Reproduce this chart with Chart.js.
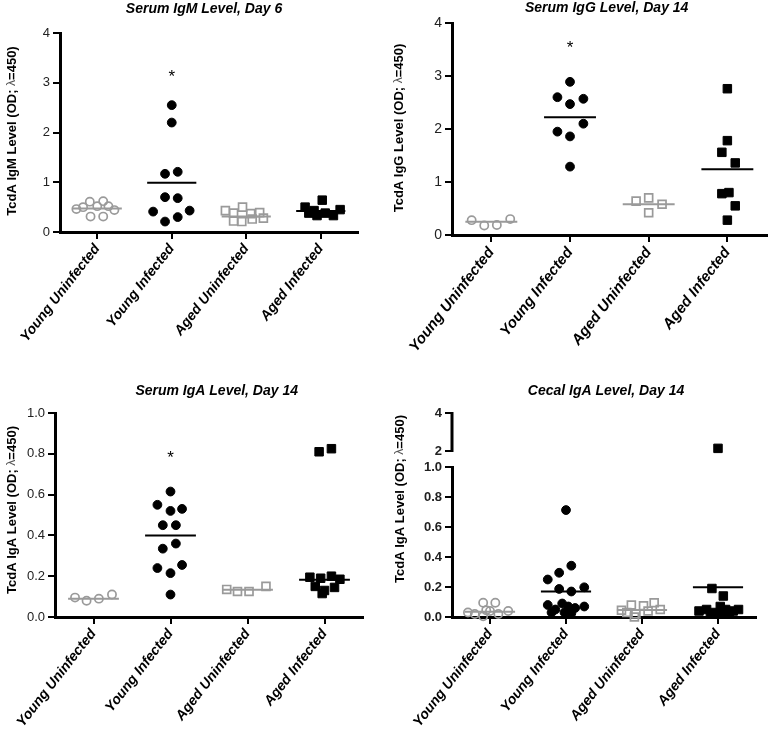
<!DOCTYPE html>
<html><head><meta charset="utf-8">
<script src="https://cdn.jsdelivr.net/npm/chart.js@4.4.1/dist/chart.umd.min.js"></script>
<style>
html,body{margin:0;padding:0;background:#fff;}
body{width:774px;height:733px;position:relative;overflow:hidden;}
.p{position:absolute;}
</style></head><body>
<div class="p" style="left:0;top:0;width:390px;height:370px"><canvas id="c1"></canvas></div>
<div class="p" style="left:390px;top:0;width:384px;height:370px"><canvas id="c2"></canvas></div>
<div class="p" style="left:0;top:370px;width:390px;height:363px"><canvas id="c3"></canvas></div>
<div class="p" style="left:390px;top:370px;width:384px;height:363px"><canvas id="c4"></canvas></div>
<script>
// ---------------- DATA ----------------
const categories = ['Young Uninfected', 'Young Infected', 'Aged Uninfected', 'Aged Infected'];

// Panel 1: Serum IgM, Day 6
const igmTitle = 'Serum IgM Level, Day 6';
const igmTicks = [0, 1, 2, 3, 4];
const igmYU = [0.46, 0.50, 0.61, 0.52, 0.62, 0.52, 0.44, 0.31, 0.31];
const igmYUx = [-0.28, -0.19, -0.10, 0.00, 0.08, 0.15, 0.23, -0.09, 0.08];
const igmYI = [2.55, 2.20, 1.17, 1.21, 0.70, 0.68, 0.41, 0.43, 0.21, 0.30];
const igmYIx = [0.00, 0.00, -0.09, 0.08, -0.09, 0.08, -0.25, 0.24, -0.09, 0.08];
const igmAU = [0.43, 0.38, 0.50, 0.37, 0.39, 0.22, 0.21, 0.26, 0.28];
const igmAUx = [-0.28, -0.17, -0.05, 0.06, 0.18, -0.17, -0.06, 0.08, 0.23];
const igmAI = [0.50, 0.38, 0.43, 0.64, 0.33, 0.38, 0.33, 0.45];
const igmAIx = [-0.21, -0.16, -0.09, 0.02, -0.05, 0.06, 0.17, 0.26];
const igmMeans = [0.47, 0.99, 0.31, 0.42];
const igmStar = 3.2;

// Panel 2: Serum IgG, Day 14
const iggTitle = 'Serum IgG Level, Day 14';
const iggTicks = [0, 1, 2, 3, 4];
const iggYU = [0.28, 0.18, 0.19, 0.30];
const iggYUx = [-0.25, -0.09, 0.07, 0.24];
const iggYI = [2.89, 2.60, 2.57, 2.47, 2.10, 1.95, 1.86, 1.29];
const iggYIx = [0.00, -0.16, 0.17, 0.00, 0.17, -0.16, 0.00, 0.00];
const iggAU = [0.64, 0.70, 0.58, 0.42];
const iggAUx = [-0.16, 0.00, 0.17, 0.00];
const iggAI = [2.76, 1.78, 1.56, 1.36, 0.78, 0.80, 0.55, 0.28];
const iggAIx = [0.00, 0.00, -0.07, 0.10, -0.07, 0.02, 0.10, 0.00];
const iggMeans = [0.25, 2.22, 0.58, 1.24];
const iggStar = 3.61;

// Panel 3: Serum IgA, Day 14
const igaTitle = 'Serum IgA Level, Day 14';
const igaTicks = [0, 0.2, 0.4, 0.6, 0.8, 1.0];
const igaYU = [0.095, 0.080, 0.090, 0.110];
const igaYUx = [-0.24, -0.09, 0.07, 0.24];
const igaYI = [0.615, 0.55, 0.52, 0.53, 0.45, 0.45, 0.36, 0.335, 0.24, 0.215, 0.255, 0.11];
const igaYIx = [0.00, -0.17, 0.00, 0.15, -0.10, 0.07, 0.07, -0.10, -0.17, 0.00, 0.15, 0.00];
const igaAU = [0.135, 0.125, 0.125, 0.150];
const igaAUx = [-0.27, -0.13, 0.02, 0.24];
const igaAI = [0.81, 0.825, 0.195, 0.19, 0.20, 0.185, 0.15, 0.13, 0.145, 0.115];
const igaAIx = [-0.07, 0.09, -0.19, -0.05, 0.09, 0.20, -0.12, 0.00, 0.13, -0.03];
const igaMeans = [0.09, 0.40, 0.134, 0.183];
const igaStar = 0.80;

// Panel 4: Cecal IgA, Day 14 (broken axis)
const cecTitle = 'Cecal IgA Level, Day 14';
const cecTicksLow = [0, 0.2, 0.4, 0.6, 0.8, 1.0];
const cecTicksHigh = [2, 4];
const cecYU = [0.095, 0.095, 0.03, 0.02, 0.005, 0.04, 0.02, 0.04, 0.045];
const cecYUx = [-0.09, 0.07, -0.29, -0.20, -0.09, 0.00, 0.11, 0.24, -0.05];
const cecYI = [0.713, 0.25, 0.295, 0.342, 0.187, 0.17, 0.198, 0.08, 0.05, 0.09, 0.07, 0.06, 0.07, 0.03, 0.03, 0.025];
const cecYIx = [0.00, -0.24, -0.09, 0.07, -0.09, 0.07, 0.24, -0.24, -0.14, -0.05, 0.03, 0.12, 0.24, -0.19, -0.02, 0.07];
const cecAU = [0.045, 0.03, 0.08, 0.02, 0.075, 0.04, 0.095, 0.05, 0.0];
const cecAUx = [-0.27, -0.20, -0.14, -0.08, 0.02, 0.08, 0.16, 0.24, -0.10];
const cecAI = [0.19, 0.14, 0.04, 0.05, 0.03, 0.07, 0.05, 0.04, 0.05, 0.02, 0.02, 0.025];
const cecAIx = [-0.08, 0.07, -0.25, -0.15, -0.05, 0.03, 0.10, 0.20, 0.27, -0.10, 0.05, 0.15];
const cecAIHigh = [2.14];
const cecAIHighx = [0.00];
const cecMeans = [0.035, 0.17, 0.047, 0.198];

// ---------------- STYLE / BUILD ----------------
const FONT = '"Liberation Sans", Arial, Helvetica, sans-serif';
Chart.defaults.font.family = FONT;
Chart.defaults.color = '#000';
const GREY = '#9a9a9a';
const HALF = 0.33;

function scatterSet(vals, jit, cat, kind, axis) {
  const filled = kind === 'yi' || kind === 'ai';
  const square = kind === 'au' || kind === 'ai';
  return {
    data: vals.map((v, i) => ({x: cat + jit[i], y: v})),
    yAxisID: axis || 'y',
    showLine: false,
    pointStyle: square ? 'rect' : 'circle',
    pointRadius: square ? (filled ? 6 : 5.6) : (filled ? 4.4 : 4.1),
    pointBorderWidth: filled ? 1 : 1.7,
    pointBorderColor: filled ? '#000' : GREY,
    pointBackgroundColor: filled ? '#000' : 'rgba(255,255,255,0)',
    clip: false,
    order: 2
  };
}
function meanSet(v, cat, grey) {
  return {
    data: [{x: cat - HALF, y: v}, {x: cat + HALF, y: v}],
    yAxisID: 'y', showLine: true, borderColor: grey ? GREY : '#000', borderWidth: 2,
    pointRadius: 0, clip: false, order: 1
  };
}

const deco = {
  id: 'deco',
  afterLayout(chart, args, o) {
    const tb = chart.titleBlock;
    if (tb && o.titleCx != null) {
      const w = tb.right - tb.left;
      tb.left = o.titleCx - w / 2; tb.right = o.titleCx + w / 2;
    }
  },
  afterDraw(chart, args, o) {
    const ctx = chart.ctx;
    if (o.star != null) {
      const x = chart.scales.x.getPixelForValue(1);
      const y = chart.scales.y.getPixelForValue(o.star);
      ctx.save();
      ctx.font = '17px ' + FONT; ctx.textAlign = 'center'; ctx.textBaseline = 'alphabetic';
      ctx.fillStyle = '#000'; ctx.fillText('*', x, y + 9.5);
      ctx.restore();
    }
    if (o.broken) {
      const s = chart.scales.y2;
      const x = chart.chartArea.left;
      ctx.save(); ctx.strokeStyle = '#000'; ctx.lineWidth = 3;
      ctx.beginPath(); ctx.moveTo(x, s.getPixelForValue(4) - 1); ctx.lineTo(x, s.getPixelForValue(2) + 1); ctx.stroke();
      ctx.restore();
    }
    if (o.yTitle) {
      const t = o.yTitle;
      ctx.save(); ctx.translate(t.x, t.y); ctx.rotate(-Math.PI / 2);
      ctx.textBaseline = 'middle'; ctx.textAlign = 'left';
      let total = 0;
      const parts = t.parts.map(p => { ctx.font = p.font; const w = ctx.measureText(p.t).width; total += w; return {t: p.t, font: p.font, color: p.color, w}; });
      let x = -total / 2;
      parts.forEach(p => { ctx.font = p.font; ctx.fillStyle = p.color; ctx.fillText(p.t, x, 0); x += p.w; });
      ctx.restore();
    }
  }
};

function yTitleParts(word) {
  const b = 'bold 13px ' + FONT;
  return [
    {t: 'TcdA ' + word + ' Level (OD; ', font: b, color: '#000'},
    {t: 'λ', font: '12px ' + FONT, color: '#555'},
    {t: '=450)', font: b, color: '#000'}
  ];
}

function axisCommon() {
  return {
    grid: {display: true, drawOnChartArea: false, drawTicks: true, tickLength: 7, color: '#000', lineWidth: 2},
    border: {display: true, color: '#000', width: 3}
  };
}

function makeChart(p) {
  const ds = [];
  const kinds = ['yu', 'yi', 'au', 'ai'];
  kinds.forEach((k, cat) => {
    ds.push(scatterSet(p.vals[cat], p.jit[cat], cat, k));
    ds.push(meanSet(p.means[cat], cat, k === 'yu' || k === 'au'));
  });
  if (p.high) ds.push(scatterSet(p.high[0], p.high[1], 3, 'ai', 'y2'));

  const scales = {
    x: Object.assign(axisCommon(), {
      type: 'linear', min: -0.5, max: 3.5,
      afterBuildTicks: s => { s.ticks = categories.map((c, i) => ({value: i})); },
      afterFit: s => { s.height = p.xH; },
      ticks: {autoSkip: false, minRotation: 52, maxRotation: 52, padding: 2, color: '#000',
              font: {size: p.xFont, weight: 'bold', style: 'italic'},
              callback: v => categories[v]}
    }),
    y: Object.assign(axisCommon(), {
      type: 'linear', position: 'left', min: p.yMin, max: p.yMax,
      afterBuildTicks: s => { s.ticks = p.yTicks.map(v => ({value: v})); },
      afterFit: s => { s.width = p.yW; },
      ticks: {padding: 3, color: '#222', font: p.tickFont, callback: p.yFmt}
    })
  };
  if (p.high) {
    scales.y.stack = 'cec'; scales.y.stackWeight = 150;
    scales.y2 = Object.assign(axisCommon(), {
      type: 'linear', position: 'left', stack: 'cec', stackWeight: 54, min: 1.16, max: 4,
      afterBuildTicks: s => { s.ticks = cecTicksHigh.map(v => ({value: v})); },
      afterFit: s => { s.width = p.yW; },
      ticks: {padding: 3, color: '#222', font: p.tickFont, callback: v => String(v)}
    });
    scales.y2.border = {display: false};
  }

  return new Chart(document.getElementById(p.id), {
    type: 'scatter',
    data: {datasets: ds},
    options: {
      responsive: true, maintainAspectRatio: false, animation: false, devicePixelRatio: 1,
      events: [],
      layout: {padding: p.pad},
      scales,
      plugins: {
        legend: {display: false}, tooltip: {enabled: false},
        title: {display: true, text: p.title, color: '#000',
                font: {size: 14, weight: 'bold', style: 'italic', lineHeight: 1.2},
                padding: p.titlePad},
        deco: {titleCx: p.titleCx, star: p.star, broken: !!p.high,
               yTitle: {x: p.yt[0], y: p.yt[1], parts: yTitleParts(p.word)}}
      }
    },
    plugins: [deco]
  });
}

makeChart({
  id: 'c1', title: igmTitle, word: 'IgM',
  vals: [igmYU, igmYI, igmAU, igmAI], jit: [igmYUx, igmYIx, igmAUx, igmAIx], means: igmMeans,
  yMin: 0, yMax: 4, yTicks: igmTicks, yFmt: v => String(v), tickFont: {size: 13}, xFont: 14,
  yW: 60, xH: 138, pad: {top: 1, right: 32, left: 0, bottom: 0}, titlePad: {top: 0, bottom: 15.2},
  titleCx: 204, yt: [12, 131], star: igmStar
});
makeChart({
  id: 'c2', title: iggTitle, word: 'IgG',
  vals: [iggYU, iggYI, iggAU, iggAI], jit: [iggYUx, iggYIx, iggAUx, iggAIx], means: iggMeans,
  yMin: 0, yMax: 4, yTicks: iggTicks, yFmt: v => String(v), tickFont: {size: 14}, xFont: 15,
  yW: 62, xH: 135, pad: {top: 0, right: 5, left: 0, bottom: 0}, titlePad: {top: 0, bottom: 6.2},
  titleCx: 216.7, yt: [9, 128], star: iggStar
});
makeChart({
  id: 'c3', title: igaTitle, word: 'IgA',
  vals: [igaYU, igaYI, igaAU, igaAI], jit: [igaYUx, igaYIx, igaAUx, igaAIx], means: igaMeans,
  yMin: 0, yMax: 1, yTicks: igaTicks, yFmt: v => v.toFixed(1), tickFont: {size: 13}, xFont: 14,
  yW: 55, xH: 116, pad: {top: 12.6, right: 27, left: 0, bottom: 0}, titlePad: {top: 0, bottom: 13.6},
  titleCx: 216.7, yt: [12, 140], star: igaStar
});
makeChart({
  id: 'c4', title: cecTitle, word: 'IgA',
  vals: [cecYU, cecYI, cecAU, cecAI], jit: [cecYUx, cecYIx, cecAUx, cecAIx], means: cecMeans,
  high: [cecAIHigh, cecAIHighx],
  yMin: 0, yMax: 1, yTicks: cecTicksLow, yFmt: v => v.toFixed(1), tickFont: {size: 13, weight: 'bold'}, xFont: 14,
  yW: 62, xH: 116, pad: {top: 12.6, right: 18, left: 0, bottom: 0}, titlePad: {top: 0, bottom: 13.6},
  titleCx: 216, yt: [10, 129], star: null
});
</script>
</body></html>
